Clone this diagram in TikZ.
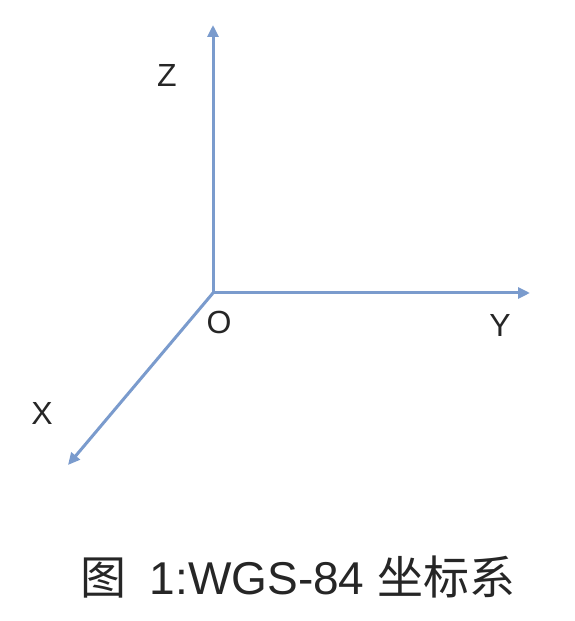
\documentclass[tikz,border=0pt]{standalone}
\usepackage{fontspec}
\setmainfont{Liberation Sans}
\newfontfamily\cjk{Noto Sans CJK SC}
\usetikzlibrary{arrows.meta}
\definecolor{axisblue}{RGB}{122,155,205}
\begin{document}
\begin{tikzpicture}[x=1pt,y=1pt,
  axis/.style={draw=axisblue,line width=3pt,-{Triangle[length=12pt,width=11pt]}},
  lbl/.style={font=\fontsize{32}{36}\selectfont,text=black!85,inner sep=0pt}]
\useasboundingbox[fill=white] (0,0) rectangle (574,621);
\coordinate (o) at (213,328);
\coordinate (z) at (213,596);
\coordinate (y) at (530,328);
\coordinate (x) at (68,156);
\draw[axis] (o) -- (z);
\draw[axis] (o) -- (y);
\draw[axis] (o) -- (x);
\node[lbl] (zl) at (167,546) {Z};
\node[lbl] (ol) at (219,299) {O};
\node[lbl] (yl) at (500,296) {Y};
\node[lbl] (xl) at (42,208) {X};
\node[font=\fontsize{46}{50}\selectfont,text=black!85,inner sep=0pt] (cap) at (298,44) {{\cjk 图}\hspace{0.5em}1:WGS-84 {\cjk 坐标系}};
\end{tikzpicture}
\end{document}
